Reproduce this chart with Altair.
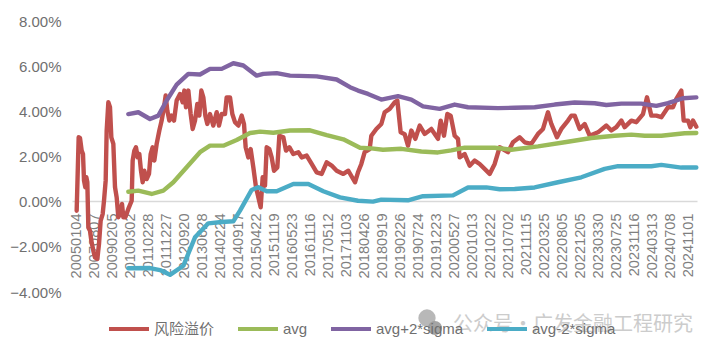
import json
import altair as alt
import pandas as pd

FONT = "Liberation Sans, Noto Sans CJK SC"
tick_labels = ["20050104","20070807","20090205","20100302","20110228","20111227","20120920","20130628","20140224","20140917","20150422","20151119","20160523","20161116","20170512","20171103","20180426","20180919","20190226","20190724","20191223","20200527","20201013","20210222","20210702","20211115","20220325","20220805","20221205","20230330","20230725","20231116","20240313","20240708","20241101"]
tick_step = 54
names = ["风险溢价", "avg", "avg+2*sigma", "avg-2*sigma"]
colors = ["#C0504D", "#9BBB59", "#8064A2", "#4BACC6"]

risk_idx = [0,3,6,10,15,19,22,26,29,32,35,40,44,50,55,62,67,72,78,82,87,90,95,100,104,110,115,120,125,130,136,140,146,155,165,168,173,178,183,188,193,198,203,210,217,222,228,233,240,248,255,262,267,272,278,285,292,300,310,318,323,328,335,342,348,355,362,368,374,380,386,392,400,410,420,427,435,445,450,460,467,475,485,495,502,507,515,522,530,538,545,552,558,565,570,578,585,592,602,608,620,628,638,650,665,675,690,705,720,735,750,765,780,800,815,835,844,854,864,879,884,899,914,924,939,954,962,972,984,994,1004,1016,1029,1044,1064,1084,1092,1102,1112,1122,1134,1144,1149,1164,1179,1194,1209,1239,1254,1269,1294,1309,1329,1344,1364,1384,1399,1414,1424,1441,1454,1474,1484,1494,1509,1524,1539,1564,1589,1604,1619,1634,1644,1664,1679,1699,1711,1724,1739,1754,1774,1789,1799,1814,1821,1834,1841,1849,1859]
risk_val = [-0.40,1.23,2.85,2.82,2.26,2.11,0.93,0.64,1.08,0.86,-1.14,-1.29,-1.73,-2.17,-2.47,-2.54,-1.88,-0.84,-0.55,0.04,0.93,3.15,4.40,4.18,2.85,2.56,0.64,0.19,-0.69,-0.55,-0.10,-0.69,-0.69,-0.32,0.04,1.82,2.26,2.41,1.96,2.11,1.37,0.86,1.37,1.00,1.23,2.11,2.41,1.82,2.56,3.15,3.59,4.18,4.70,4.03,3.59,3.81,3.59,4.48,4.77,4.40,4.92,4.18,4.92,3.88,3.22,3.59,4.33,3.81,4.92,4.62,3.81,3.44,3.88,3.37,3.96,3.37,3.88,3.88,4.62,4.62,3.88,3.52,3.37,3.81,3.44,2.41,1.96,2.33,1.52,0.64,0.19,-0.25,1.08,0.71,2.41,2.33,1.96,1.37,1.52,2.92,2.85,2.26,2.41,2.11,2.19,1.96,2.04,1.67,1.30,1.23,1.74,1.60,1.37,1.23,1.37,0.86,1.30,1.67,2.19,2.33,2.92,3.22,3.44,3.96,4.11,4.40,4.48,3.07,2.99,2.48,3.15,2.78,3.37,3.00,3.22,2.78,3.59,2.92,3.88,3.81,2.92,2.78,1.96,2.11,1.59,1.82,1.67,1.23,1.67,2.41,2.19,2.63,2.85,2.63,2.56,3.00,3.22,3.96,3.44,2.85,3.22,3.59,3.81,3.81,3.22,3.44,2.92,3.07,3.37,3.15,3.30,3.59,3.30,3.59,3.52,3.88,4.62,3.81,3.81,3.74,4.18,4.18,4.55,4.92,3.59,3.59,3.30,3.59,3.32]

avg_idx = [155,185,225,260,290,330,370,400,440,480,520,550,590,640,700,750,800,850,884,919,974,1034,1084,1124,1164,1254,1304,1384,1464,1544,1614,1664,1704,1754,1824,1859]
avg_val = [0.44,0.49,0.34,0.49,0.86,1.52,2.19,2.48,2.48,2.73,3.04,3.10,3.05,3.15,3.16,2.95,2.76,2.39,2.36,2.30,2.34,2.22,2.18,2.27,2.39,2.39,2.30,2.45,2.63,2.82,2.92,2.97,2.92,2.92,3.03,3.04]

upper_idx = [155,185,220,245,270,300,335,370,400,435,470,500,540,560,600,640,720,780,820,844,874,914,964,1004,1039,1089,1134,1174,1264,1314,1374,1434,1494,1554,1589,1634,1694,1739,1774,1819,1859]
upper_val = [3.88,3.96,3.66,3.81,4.48,5.18,5.66,5.63,5.88,5.88,6.13,6.03,5.58,5.66,5.69,5.58,5.55,5.41,5.07,4.92,4.77,4.52,4.67,4.52,4.22,4.11,4.30,4.18,4.14,4.16,4.18,4.30,4.39,4.36,4.28,4.34,4.34,4.24,4.36,4.58,4.62]

lower_idx = [155,220,250,280,320,355,395,435,470,490,525,545,570,600,650,695,740,790,844,889,914,994,1039,1129,1174,1229,1269,1314,1374,1444,1514,1584,1624,1724,1754,1814,1859]
lower_val = [-2.95,-2.94,-3.03,-3.24,-2.84,-1.58,-0.96,-0.90,-0.87,-0.40,0.52,0.64,0.46,0.46,0.78,0.78,0.46,0.19,0.04,0.00,0.09,0.06,0.24,0.28,0.63,0.63,0.55,0.56,0.63,0.86,1.08,1.45,1.57,1.57,1.63,1.51,1.51]

series = [(names[0], risk_idx, risk_val), (names[1], avg_idx, avg_val),
          (names[2], upper_idx, upper_val), (names[3], lower_idx, lower_val)]
rows = [{"name": n, "i": i, "v": v} for n, xs, ys in series for i, v in zip(xs, ys)]
df = pd.DataFrame(rows)

label_expr = json.dumps(tick_labels) + "[round(datum.value/%d)]" % tick_step

x_enc = alt.X("i:Q", scale=alt.Scale(domain=[-14, 1861], nice=False, zero=False),
    axis=alt.Axis(values=[k * tick_step for k in range(len(tick_labels))], labelExpr=label_expr,
        title=None, grid=False, ticks=False, domain=True, domainColor="#D9D9D9", domainWidth=1.5,
        offset=-91, labelAngle=-90, labelAlign="right", labelBaseline="middle", labelPadding=12,
        labelFont=FONT, labelFontSize=14.6, labelColor="#7F7F7F", labelOverlap=False, labelFlush=False))
y_enc = alt.Y("v:Q", scale=alt.Scale(domain=[-4, 8], nice=False, zero=False),
    axis=alt.Axis(values=[-4, -2, 0, 2, 4, 6, 8], labelExpr="format(datum.value,'.2f')+'%'",
        title=None, grid=False, ticks=False, domain=False, labelPadding=11,
        labelFont=FONT, labelFontSize=15, labelColor="#6F6F6F"))

lines = alt.Chart(df).mark_line(strokeWidth=4.4, strokeJoin="round", strokeCap="round", interpolate="linear").encode(
    x=x_enc, y=y_enc,
    color=alt.Color("name:N", sort=names, scale=alt.Scale(domain=names, range=colors),
        legend=alt.Legend(title=None, orient="none", direction="horizontal", legendX=35, legendY=286,
            symbolType="stroke", symbolSize=1600, symbolStrokeWidth=4, columnPadding=15, labelOffset=3,
            labelFont=FONT, labelFontSize=15, labelColor="#6F6F6F")),
)

mark_df = pd.DataFrame({"t": ["公众号·广发金融工程研究"]})
wm_text = alt.Chart(mark_df).mark_text(align="left", baseline="middle", font="Noto Sans CJK SC", fontSize=20,
    color="#C4C4C4", opacity=0.85).encode(x=alt.value(381), y=alt.value(304), text="t:N")
wm_icon = alt.Chart(mark_df).mark_circle(size=300, color="#B0B0B0", opacity=0.9).encode(x=alt.value(355), y=alt.value(297))
wm_icon2 = alt.Chart(mark_df).mark_circle(size=200, color="#9A9A9A", opacity=0.9).encode(x=alt.value(363), y=alt.value(307))

chart = alt.layer(wm_icon, wm_icon2, wm_text, lines).properties(
    width=625, height=271,
    autosize=alt.AutoSizeParams(type="none"),
    padding={"left": 64, "top": 13, "right": 13, "bottom": 54},
).configure_view(stroke=None)

chart.save("out.html", embed_options={"renderer": "svg", "actions": False})
